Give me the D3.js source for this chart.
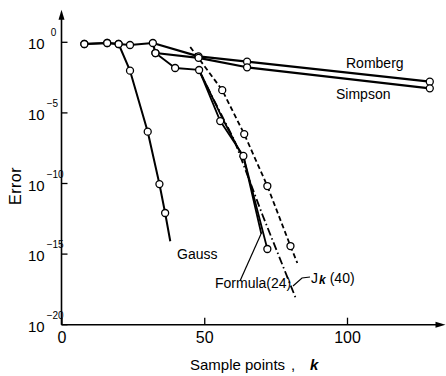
<!DOCTYPE html>
<html>
<head>
<meta charset="utf-8">
<script src="https://cdn.jsdelivr.net/npm/d3@7"></script>
<style>
  body { margin: 0; background: #fff; }
  svg { display: block; font-family: "Liberation Sans", Arial, sans-serif; }
</style>
</head>
<body>
<svg id="chart" width="446" height="376"></svg>
<script>
// values: k = sample points, exp = log10(error)
var gaussK   = [8, 16, 20, 24, 30.2, 34.3, 36.3, 38.1];
var gaussExp = [-0.12, -0.05, -0.12, -2.01, -6.33, -10.04, -12.09, -14.09];

var rombergK   = [8, 16, 20, 24, 32, 48, 65, 129];
var rombergExp = [-0.12, -0.05, -0.12, -0.19, -0.05, -1.0, -1.37, -2.79];

var simpsonK   = [32, 32.9, 48, 65, 129];
var simpsonExp = [-0.05, -0.76, -1.1, -1.77, -3.26];

var measuredK   = [32.9, 39.8, 48.2, 55.6, 63.7, 72.1];
var measuredExp = [-0.76, -1.82, -1.96, -5.58, -8.05, -14.64];

var formulaK   = [48.2, 56.3, 64.0, 70.0];
var formulaExp = [-1.96, -5.36, -8.33, -13.58];

var jkK   = [48.4, 60.5, 70.4, 82.3];
var jkExp = [-2.1, -6.92, -12.23, -18.25];

var dashedK   = [45.1, 56.3, 64.0, 72.1, 80.2, 82.6];
var dashedExp = [-0.33, -3.39, -6.5, -10.18, -14.43, -15.63];

var xTicks = [0, 50, 100];
var yTicks = [0, -5, -10, -15, -20];

var svg = d3.select("#chart");

var x = d3.scaleLinear().domain([0, 100]).range([61.5, 347]);
var y = d3.scaleLinear().domain([-20, 0]).range([324.7, 42.3]);

var line = d3.line().x(d => x(d[0])).y(d => y(d[1]));

// axes with arrows
svg.append("path")
  .attr("d", `M${x(0)},${y(-20)}V${y(2.3) + 8}`)
  .attr("stroke", "#000").attr("stroke-width", 1.6).attr("fill", "none");
svg.append("path")
  .attr("d", `M${x(0)},${y(2.3)}l-3,10l6,0z`).attr("fill", "#000");
svg.append("path")
  .attr("d", `M${x(0)},${y(-20)}H${x(134.5) - 8}`)
  .attr("stroke", "#000").attr("stroke-width", 1.6).attr("fill", "none");
svg.append("path")
  .attr("d", `M${x(134.5)},${y(-20)}l-10,-3l0,6z`).attr("fill", "#000");

var xAxis = svg.append("g")
  .attr("transform", `translate(0,${y(-20)})`)
  .call(d3.axisBottom(x).tickValues(xTicks).tickSize(-7).tickSizeOuter(0).tickPadding(7));
xAxis.select(".domain").remove();
xAxis.selectAll("line").attr("stroke-width", 1.3);
xAxis.selectAll("text").attr("font-size", 16).attr("font-family", "Liberation Sans, Arial, sans-serif");

// y ticks (inward) and 10^n labels
svg.selectAll(".ytick").data(yTicks).enter().append("line")
  .attr("x1", x(0)).attr("x2", x(0) + 6)
  .attr("y1", d => y(d)).attr("y2", d => y(d))
  .attr("stroke", "#000").attr("stroke-width", 1.3);

var yl = svg.selectAll(".ylab").data(yTicks).enter().append("text")
  .attr("x", 28).attr("y", d => y(d) + 7)
  .attr("font-size", 15);
yl.append("tspan").text("10");
yl.append("tspan")
  .attr("font-size", 10)
  .attr("dx", d => d === 0 ? 6 : 2)
  .attr("dy", -13)
  .text(d => d === 0 ? "0" : "\u2212" + (-d));

// series
function drawLine(ks, es, dash, width) {
  svg.append("path")
    .datum(d3.zip(ks, es))
    .attr("d", line)
    .attr("fill", "none")
    .attr("stroke", "#000")
    .attr("stroke-width", width)
    .attr("stroke-dasharray", dash)
    .attr("stroke-linejoin", "round");
}
drawLine(rombergK, rombergExp, null, 2.2);
drawLine(simpsonK, simpsonExp, null, 2.2);
drawLine(gaussK, gaussExp, null, 2);
drawLine(measuredK, measuredExp, null, 1.8);
drawLine(formulaK, formulaExp, null, 1.8);
drawLine(jkK, jkExp, "8,3,1.5,3", 1.8);
drawLine(dashedK, dashedExp, "5,3", 1.8);

function drawMarkers(ks, es) {
  svg.append("g").selectAll("circle")
    .data(d3.zip(ks, es)).enter().append("circle")
    .attr("cx", d => x(d[0])).attr("cy", d => y(d[1]))
    .attr("r", 3.5)
    .attr("fill", "#fff").attr("stroke", "#000").attr("stroke-width", 1.3);
}
drawMarkers(gaussK.slice(0, -1), gaussExp.slice(0, -1));
drawMarkers(rombergK, rombergExp);
drawMarkers(simpsonK.slice(1), simpsonExp.slice(1));
drawMarkers(measuredK, measuredExp);
drawMarkers(dashedK.slice(1, -1), dashedExp.slice(1, -1));

// labels
function label(tx, ty, str, size) {
  return svg.append("text").attr("x", tx).attr("y", ty)
    .attr("font-size", size || 14).text(str);
}
label(346, 68, "Romberg");
label(336, 99, "Simpson");
label(177, 259, "Gauss");
label(215, 288, "Formula(24)");

var jk = svg.append("text").attr("x", 311).attr("y", 283).attr("font-size", 14);
jk.append("tspan").text("J");
jk.append("tspan").attr("font-size", 12).attr("font-style", "italic")
  .attr("font-weight", "bold").attr("dx", 1).attr("dy", 1).text("k");
jk.append("tspan").attr("dy", -1).attr("dx", 4).text("(40)");

// leaders
svg.append("path").attr("d", "M240,281L261,234")
  .attr("stroke", "#000").attr("stroke-width", 1.2).attr("fill", "none");
svg.append("path").attr("d", "M293,286L302,278L310,277")
  .attr("stroke", "#000").attr("stroke-width", 1.2).attr("fill", "none");

// axis titles
svg.append("text")
  .attr("transform", "translate(21,186) rotate(-90)")
  .attr("text-anchor", "middle")
  .attr("font-size", 16).attr("letter-spacing", 0.5)
  .text("Error");

var xt = svg.append("text").attr("x", 190).attr("y", 370).attr("font-size", 15);
xt.append("tspan").text("Sample points");
xt.append("tspan").attr("x", 291).text(",");
xt.append("tspan").attr("x", 310).attr("font-style", "italic")
  .attr("font-weight", "bold").text("k");
</script>
</body>
</html>
